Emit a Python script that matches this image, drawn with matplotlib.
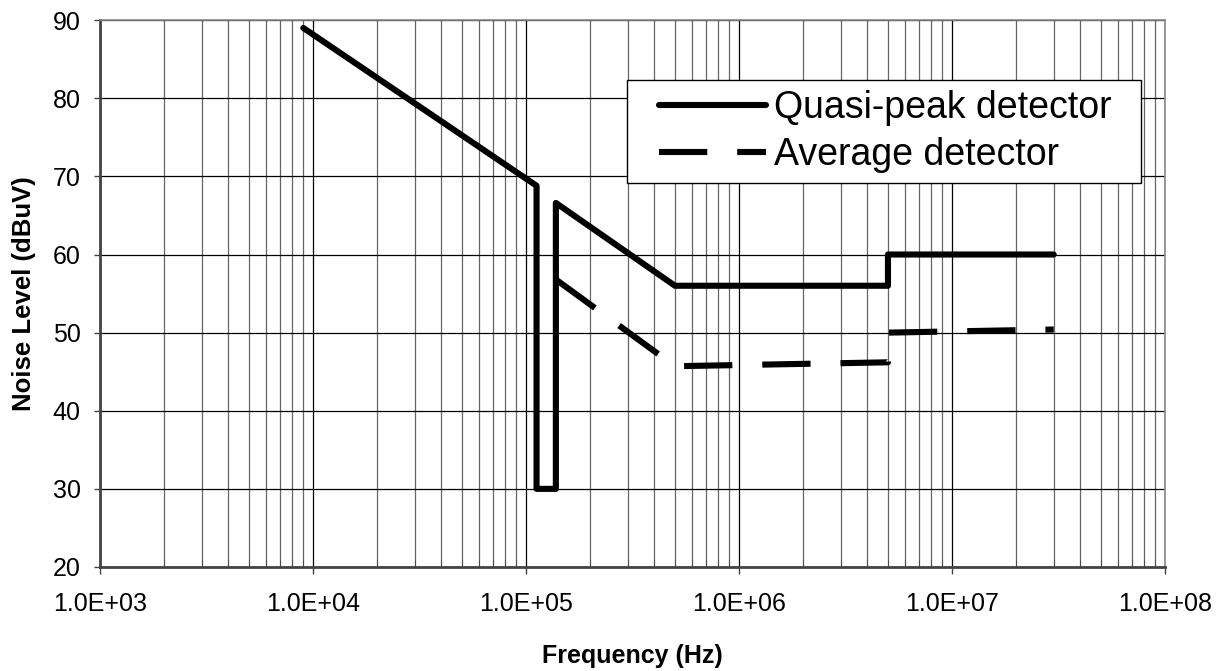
import matplotlib
matplotlib.use("Agg")
from matplotlib import pyplot as plt
from matplotlib.patches import Rectangle
from matplotlib.ticker import FixedLocator, FuncFormatter, LogLocator, NullFormatter

plt.rcParams['font.family'] = ['Liberation Sans', 'DejaVu Sans']

# Quasi-peak detector limit (Hz, dBuV)
qp_freq = [9e3, 1.12e5, 1.12e5, 1.38e5, 1.38e5, 5e5, 5e6, 5e6, 3e7]
qp_level = [89, 68.8, 30, 30, 66.6, 56, 56, 60, 60]

# Average detector limit (Hz, dBuV)
avg_freq = [1.38e5, 5e5, 5e6, 5e6, 3e7]
avg_level = [56.8, 45.7, 46.2, 50, 50.4]

y_ticks = [20, 30, 40, 50, 60, 70, 80, 90]

fig = plt.figure(figsize=(12.2, 6.71), dpi=100)
ax = fig.add_axes([0.082, 0.155, 0.873, 0.815])

ax.plot(qp_freq, qp_level, c='black', lw=4.4, solid_joinstyle='round',
        solid_capstyle='round', label="Quasi-peak detector", zorder=3)
ax.plot(avg_freq, avg_level, c='black', lw=4.4, dashes=(7.9, 4.9),
        dash_capstyle='butt', label="Average detector", zorder=3)

# Format axes.
ax.set_xscale('log')
ax.set_xlim(1e3, 1e8)
ax.set_ylim(20, 90)
ax.yaxis.set_major_locator(FixedLocator(y_ticks))
ax.xaxis.set_major_locator(LogLocator(base=10, numticks=10))
ax.xaxis.set_minor_locator(LogLocator(base=10, subs=range(2, 10), numticks=50))
ax.xaxis.set_minor_formatter(NullFormatter())
ax.xaxis.set_major_formatter(FuncFormatter(lambda v, p: "%.1E" % v))

ax.grid(which='major', color='black', lw=0.9)
ax.grid(which='minor', axis='x', color='#666666', lw=0.9)
ax.set_axisbelow(True)

for side in ['top', 'right']:
    ax.spines[side].set_color('#888888')
    ax.spines[side].set_linewidth(1.2)
for side in ['left', 'bottom']:
    ax.spines[side].set_color('#444444')
    ax.spines[side].set_linewidth(2)

ax.tick_params(axis='both', which='major', labelsize=18, length=4, width=1, color='#444444')
ax.tick_params(axis='y', which='major', pad=10)
ax.tick_params(axis='x', which='major', pad=13, length=5)
ax.tick_params(axis='x', which='minor', direction='in', length=5, color='#444444')

ax.set_xlabel("Frequency (Hz)", fontsize=18, fontweight='bold', labelpad=20)
ax.set_ylabel("Noise Level (dBuV)", fontsize=18.5, fontweight='bold', labelpad=12)

# Legend box drawn separately so the padding matches the original.
ax.add_patch(Rectangle((0.495, 0.702), 0.482, 0.188, transform=ax.transAxes,
                       facecolor='white', edgecolor='black', lw=1, zorder=4))
leg = ax.legend(loc='upper left', bbox_to_anchor=(0.525, 0.872), fontsize=27,
                frameon=False, handlelength=2.85, handletextpad=0.2,
                borderpad=0, labelspacing=0.28, borderaxespad=0)
leg.set_zorder(5)

fig.savefig("out.png", dpi=100)
